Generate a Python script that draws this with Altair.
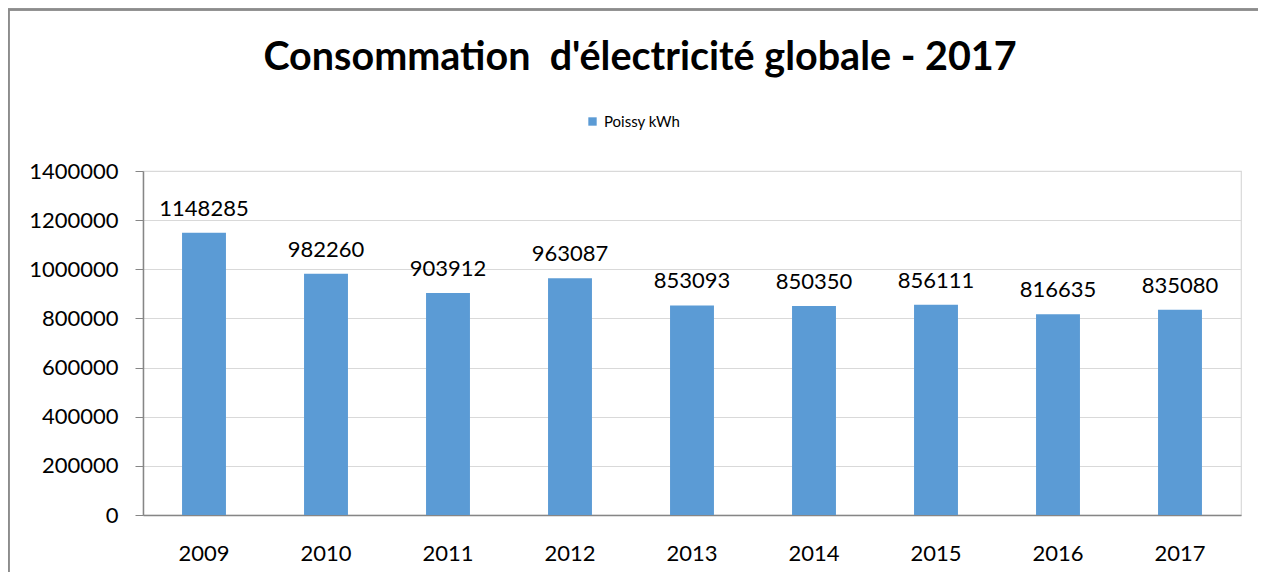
import altair as alt
import pandas as pd

years = ["2009", "2010", "2011", "2012", "2013", "2014", "2015", "2016", "2017"]
values = [1148285, 982260, 903912, 963087, 853093, 850350, 856111, 816635, 835080]
series = ["Poissy kWh"] * len(years)
y_ticks = [0, 200000, 400000, 600000, 800000, 1000000, 1200000, 1400000]

df = pd.DataFrame({"year": years, "value": values, "series": series})

FONT = "Lato"

base = alt.Chart(df)

x_enc = alt.X(
    "year:N",
    sort=years,
    title=None,
    scale=alt.Scale(paddingInner=0.64, paddingOuter=0.32),
    axis=alt.Axis(
        labelAngle=0,
        labelFontSize=22,
        labelFont=FONT,
        labelColor="#000000",
        labelPadding=28,
        ticks=False,
        domainColor="#868686",
        domainWidth=1.5,
        grid=False,
    ),
)

y_enc = alt.Y(
    "value:Q",
    title=None,
    scale=alt.Scale(domain=[0, 1400000], nice=False),
    axis=alt.Axis(
        values=y_ticks,
        format="d",
        labelFontSize=22,
        labelFont=FONT,
        labelColor="#000000",
        labelPadding=17,
        tickSize=8,
        tickColor="#868686",
        domainColor="#868686",
        domainWidth=1.5,
        gridColor="#D9D9D9",
        gridWidth=1.2,
    ),
)

bars = base.mark_bar(color="#5B9BD5").encode(
    x=x_enc,
    y=y_enc,
    color=alt.Color(
        "series:N",
        scale=alt.Scale(range=["#5B9BD5"]),
        legend=alt.Legend(
            title=None,
            orient="none",
            legendX=442,
            legendY=-57,
            symbolType="square",
            symbolSize=70,
            labelFontSize=15,
            labelFont=FONT,
            labelColor="#000000",
        ),
    ),
)

labels = base.mark_text(
    baseline="alphabetic", dy=-17, fontSize=22, font=FONT, color="#000000"
).encode(
    x=alt.X("year:N", sort=years),
    y=alt.Y("value:Q"),
    text=alt.Text("value:Q", format="d"),
)

frame = base.mark_rect(fill=None, stroke="#8C8C8C", strokeWidth=1.5).encode(
    x=alt.value(-134.5),
    x2=alt.value(1135),
    y=alt.value(-161.5),
    y2=alt.value(440),
)

chart = (
    alt.layer(frame, bars, labels)
    .properties(
        width=1098,
        height=344,
        autosize=alt.AutoSizeParams(type="none"),
        padding={"left": 135, "top": 163, "right": 17, "bottom": 60},
        title=alt.TitleParams(
            text="Consommation\u00a0 d'électricité globale - 2017",
            font=FONT,
            fontSize=39.5,
            fontWeight="bold",
            color="#000000",
            anchor="middle",
            baseline="alphabetic",
            dx=-52,
            offset=-101,
        ),
    )
    .configure_view(stroke="#D9D9D9", strokeWidth=1.2)
)

chart.save("out.html", embed_options={"renderer": "svg", "actions": False})
